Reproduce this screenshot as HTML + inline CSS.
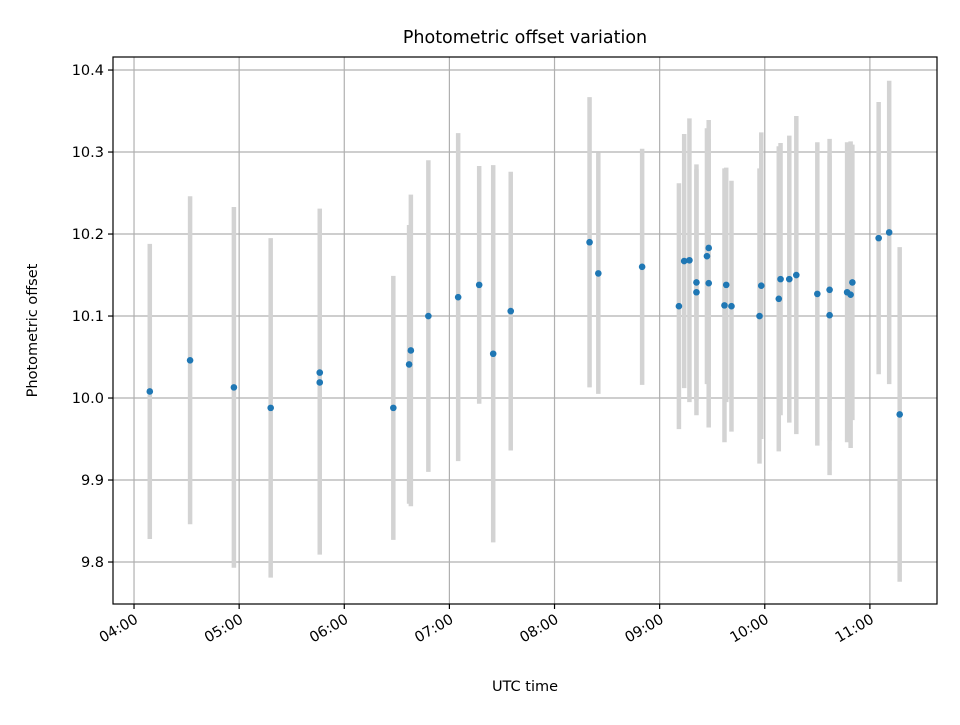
<!DOCTYPE html>
<html><head><meta charset="utf-8"><style>
body{margin:0;background:#fff;}
svg text{font-family:"DejaVu Sans","Liberation Sans",sans-serif;}
</style></head><body>
<svg id="chart" width="960" height="720" xmlns="http://www.w3.org/2000/svg"></svg>
<script>
// times in minutes after midnight UTC
const times = [249,272,297,318,346,346,388,397,398,408,425,437,445,455,500,505,530,551,554,557,561,561,567,568,568,578,577,581,597,598,608,609,614,618,630,637,637,647,649,650,665,671,677];
const offsets = [10.008,10.046,10.013,9.988,10.031,10.019,9.988,10.041,10.058,10.1,10.123,10.138,10.054,10.106,10.19,10.152,10.16,10.112,10.167,10.168,10.141,10.129,10.173,10.183,10.14,10.138,10.113,10.112,10.1,10.137,10.121,10.145,10.145,10.15,10.127,10.132,10.101,10.129,10.126,10.141,10.195,10.202,9.98];
const errors = [0.18,0.2,0.22,0.207,0.2,0.21,0.161,0.17,0.19,0.19,0.2,0.145,0.23,0.17,0.177,0.147,0.144,0.15,0.155,0.173,0.144,0.15,0.156,0.156,0.176,0.143,0.167,0.153,0.18,0.187,0.186,0.166,0.175,0.194,0.185,0.184,0.195,0.183,0.187,0.168,0.166,0.185,0.204];
const xTicks = [240,300,360,420,480,540,600,660];
const xTickLabels = ["04:00","05:00","06:00","07:00","08:00","09:00","10:00","11:00"];
const yTicks = [9.8,9.9,10.0,10.1,10.2,10.3,10.4];
const yTickLabels = ["9.8","9.9","10.0","10.1","10.2","10.3","10.4"];

const L=113,R=937,T=57,B=604;
const xMin=228.0,xMax=698.3,yMin=9.7488,yMax=10.4159;
const xs=v=>L+(v-xMin)/(xMax-xMin)*(R-L);
const ys=v=>B-(v-yMin)/(yMax-yMin)*(B-T);
const svg=document.getElementById('chart');
const NS='http://www.w3.org/2000/svg';
function mk(tag,attrs,parent){const e=document.createElementNS(NS,tag);for(const k in attrs)e.setAttribute(k,attrs[k]);(parent||svg).appendChild(e);return e;}

const grid=mk('g',{});


xTicks.forEach(t=>{const l=mk('line',{x1:xs(t),x2:xs(t),y1:T,y2:B,stroke:'#b0b0b0','stroke-width':1.2},grid);

});
yTicks.forEach(t=>{const l=mk('line',{x1:L,x2:R,y1:ys(t),y2:ys(t),stroke:'#b0b0b0','stroke-width':1.2},grid);

});

const eb=mk('g',{});


times.forEach((t,i)=>{const l=mk('line',{x1:xs(t),x2:xs(t),y1:ys(offsets[i]+errors[i]),y2:ys(offsets[i]-errors[i]),stroke:'#d3d3d3','stroke-width':4.5},eb);

});
const pts=mk('g',{});


times.forEach((t,i)=>{const c=mk('circle',{cx:xs(t),cy:ys(offsets[i]),r:3.3,fill:'#1f77b4'},pts);

});

const frame=mk('rect',{x:L,y:T,width:R-L,height:B-T,fill:'none',stroke:'#000','stroke-width':1.2});



xTicks.forEach((t,i)=>{const x=xs(t);
const tk=mk('line',{x1:x,x2:x,y1:B,y2:B+5,stroke:'#000','stroke-width':1.2});


const tx=mk('text',{x:x+5,y:B+18,'font-size':14.5,'text-anchor':'end',transform:`rotate(-30 ${x+5} ${B+18})`});
tx.textContent=xTickLabels[i];

});
yTicks.forEach((t,i)=>{const y=ys(t);
const tk=mk('line',{x1:L-5,x2:L,y1:y,y2:y,stroke:'#000','stroke-width':1.2});


const tx=mk('text',{x:L-9,y:y+5,'font-size':14.5,'text-anchor':'end'});
tx.textContent=yTickLabels[i];

});

const title=mk('text',{x:(L+R)/2,y:43,'font-size':17.5,'text-anchor':'middle'});
title.textContent='Photometric offset variation';


const xt=mk('text',{x:(L+R)/2,y:691,'font-size':14.5,'text-anchor':'middle'});
xt.textContent='UTC time';


const yt=mk('text',{x:37,y:(T+B)/2,'font-size':14.5,'text-anchor':'middle',transform:`rotate(-90 37 ${(T+B)/2})`});
yt.textContent='Photometric offset';


</script>
</body></html>
